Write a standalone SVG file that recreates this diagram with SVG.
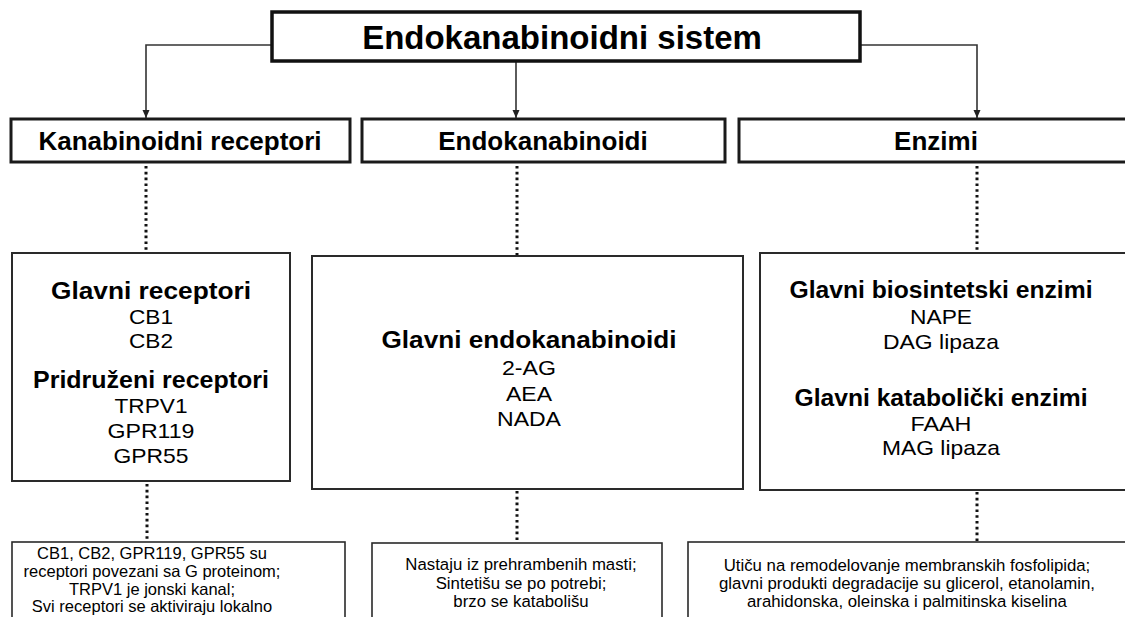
<svg xmlns="http://www.w3.org/2000/svg" width="1125" height="617" viewBox="0 0 1125 617">
<style>
.bg{fill:#fff}
.b1{fill:#fff;stroke:#111;stroke-width:3.5}
.b2{fill:#fff;stroke:#1a1a1a;stroke-width:3}
.b3{fill:#fff;stroke:#2a2a2a;stroke-width:2}
.b4{fill:#fff;stroke:#2a2a2a;stroke-width:1.6}
.c{fill:none;stroke:#333;stroke-width:1.6}
.d{fill:none;stroke:#111;stroke-width:3;stroke-dasharray:2.6 3.2}
text{font-family:"Liberation Sans",Arial,sans-serif;fill:#000;text-anchor:middle}
.t0{font-size:33px;font-weight:bold}
.t1{font-size:26px;font-weight:bold}
.h{font-size:23px;font-weight:bold}
.r{font-size:21px}
.s{font-size:16.8px}
.sl{font-size:16.5px}
</style>
<defs>
<marker id="ah" markerWidth="10" markerHeight="10" refX="8" refY="4.5" orient="auto" markerUnits="userSpaceOnUse">
<path d="M0,1 L8,4.5 L0,8 Z" fill="#222"/>
</marker>
</defs>
<rect class="bg" x="0" y="0" width="1125" height="617"/>
<g id="connectors">
<path class="c" d="M272,45 H146 V118" marker-end="url(#ah)"/>
<path class="c" d="M516,61 V118" marker-end="url(#ah)"/>
<path class="c" d="M860,45 H977 V118" marker-end="url(#ah)"/>
<path class="d" d="M146,166 V252"/>
<path class="d" d="M517,166 V255"/>
<path class="d" d="M977,166 V252"/>
<path class="d" d="M147,484 V541"/>
<path class="d" d="M517,491 V542"/>
<path class="d" d="M977,492 V541"/>
</g>
<g id="root">
<rect class="b1" x="272" y="12" width="588" height="49"/>
<text class="t0" x="562" y="49">Endokanabinoidni sistem</text>
</g>
<g id="receptori">
<rect class="b2" x="11" y="119" width="339" height="43"/>
<text class="t1" x="180" y="150">Kanabinoidni receptori</text>
</g>
<g id="endokanabinoidi">
<rect class="b2" x="362" y="119" width="363" height="43"/>
<text class="t1" x="543" y="150">Endokanabinoidi</text>
</g>
<g id="enzimi">
<rect class="b2" x="739" y="119" width="400" height="43"/>
<text class="t1" x="936" y="150">Enzimi</text>
</g>
<g id="receptori-detalji">
<rect class="b3" x="12" y="253" width="278" height="228"/>
<text class="h" x="151" y="299" textLength="200" lengthAdjust="spacingAndGlyphs">Glavni receptori</text>
<text class="r" x="151" y="324" textLength="44" lengthAdjust="spacingAndGlyphs">CB1</text>
<text class="r" x="151" y="348" textLength="44" lengthAdjust="spacingAndGlyphs">CB2</text>
<text class="h" x="151" y="388" textLength="236" lengthAdjust="spacingAndGlyphs">Pridruženi receptori</text>
<text class="r" x="151" y="413" textLength="73" lengthAdjust="spacingAndGlyphs">TRPV1</text>
<text class="r" x="151" y="438" textLength="87" lengthAdjust="spacingAndGlyphs">GPR119</text>
<text class="r" x="151" y="463" textLength="75" lengthAdjust="spacingAndGlyphs">GPR55</text>
</g>
<g id="endokanabinoidi-detalji">
<rect class="b3" x="312" y="256" width="431" height="233"/>
<text class="h" x="529" y="348" textLength="295" lengthAdjust="spacingAndGlyphs">Glavni endokanabinoidi</text>
<text class="r" x="529" y="375" textLength="54" lengthAdjust="spacingAndGlyphs">2-AG</text>
<text class="r" x="529" y="401" textLength="46" lengthAdjust="spacingAndGlyphs">AEA</text>
<text class="r" x="529" y="426" textLength="64" lengthAdjust="spacingAndGlyphs">NADA</text>
</g>
<g id="enzimi-detalji">
<rect class="b3" x="760" y="253" width="380" height="237"/>
<text class="h" x="941" y="298" textLength="303" lengthAdjust="spacingAndGlyphs">Glavni biosintetski enzimi</text>
<text class="r" x="941" y="324" textLength="62" lengthAdjust="spacingAndGlyphs">NAPE</text>
<text class="r" x="941" y="349" textLength="116" lengthAdjust="spacingAndGlyphs">DAG lipaza</text>
<text class="h" x="941" y="406" textLength="293" lengthAdjust="spacingAndGlyphs">Glavni katabolički enzimi</text>
<text class="r" x="941" y="431" textLength="61" lengthAdjust="spacingAndGlyphs">FAAH</text>
<text class="r" x="941" y="455" textLength="118" lengthAdjust="spacingAndGlyphs">MAG lipaza</text>
</g>
<g id="receptori-opis">
<rect class="b4" x="12" y="542" width="333" height="90"/>
<text class="sl" x="152" y="559">CB1, CB2, GPR119, GPR55 su</text>
<text class="sl" x="152" y="577">receptori povezani sa G proteinom;</text>
<text class="sl" x="152" y="594.5">TRPV1 je jonski kanal;</text>
<text class="sl" x="152" y="611.5">Svi receptori se aktiviraju lokalno</text>
</g>
<g id="endokanabinoidi-opis">
<rect class="b4" x="372" y="543" width="290" height="90"/>
<text class="s" x="521" y="570">Nastaju iz prehrambenih masti;</text>
<text class="s" x="521" y="589">Sintetišu se po potrebi;</text>
<text class="s" x="521" y="607">brzo se katabolišu</text>
</g>
<g id="enzimi-opis">
<rect class="b4" x="688" y="542" width="450" height="90"/>
<text class="s" x="907" y="571">Utiču na remodelovanje membranskih fosfolipida;</text>
<text class="s" x="907" y="589">glavni produkti degradacije su glicerol, etanolamin,</text>
<text class="s" x="907" y="607">arahidonska, oleinska i palmitinska kiselina</text>
</g>
</svg>
